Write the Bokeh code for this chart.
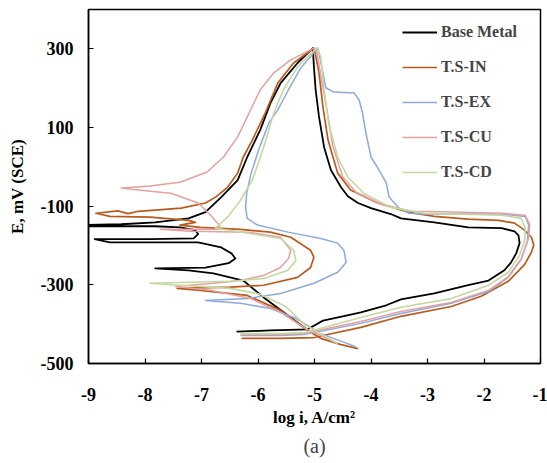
from bokeh.plotting import figure
from bokeh.models import Range1d, FixedTicker, Legend, LegendItem, Title
from bokeh.embed import file_html
from bokeh.resources import INLINE

series_names = ["Base Metal", "T.S-IN", "T.S-EX", "T.S-CU", "T.S-CD"]
series_colors = ["#000000", "#BA5A1C", "#8EA9DB", "#E6A0A0", "#C5D8A0"]

x_ticks = [-9, -8, -7, -6, -5, -4, -3, -2, -1]
x_tick_labels = ["-9", "-8", "-7", "-6", "-5", "-4", "-3", "-2", "-1"]
y_ticks = [300, 100, -100, -300, -500]
y_tick_labels = ["300", "100", "-100", "-300", "-500"]

# Base Metal
logi_base = [-6.38, -5.78, -5.12, -4.85, -4.44, -4.18, -3.73, -3.47, -2.88, -2.28, -1.92, -1.64, -1.52, -1.43,
             -1.37, -1.39, -1.46, -1.69, -2.28, -2.88, -3.47, -3.65, -4.00, -4.23, -4.41, -4.53, -4.71, -4.83,
             -4.92, -4.98, -5.01, -5.03, -5.30, -5.60, -5.78, -5.96, -6.19, -6.36, -6.65, -6.93, -7.23, -7.82,
             -8.42, -9.15, -9.15, -7.82, -7.38, -7.11, -7.06, -7.14, -7.91, -8.89, -8.62, -7.06, -6.65, -6.47,
             -6.40, -6.52, -6.93, -7.82, -7.23, -6.79, -6.26, -5.90, -5.42, -5.16]
E_base = [-419, -416, -413, -391, -378, -370, -352, -337, -322, -301, -289, -263, -243, -220,
          -194, -174, -164, -156, -154, -141, -131, -120, -105, -92, -75, -52, -8, 50,
          127, 196, 254, 302, 264, 213, 162, 94, 25, -34, -77, -115, -131, -141,
          -146, -148, -151, -151, -154, -161, -171, -182, -184, -184, -192, -192, -205, -220,
          -233, -245, -256, -258, -263, -271, -289, -332, -383, -411]

# T.S-IN
logi_in = [-6.29, -5.60, -5.01, -4.18, -3.47, -2.58, -2.05, -1.57, -1.28, -1.16, -1.12, -1.16, -1.30, -1.46,
           -1.74, -2.28, -2.88, -3.34, -3.88, -4.36, -4.59, -4.76, -4.85, -4.92, -5.00, -5.01, -5.37, -5.65,
           -5.87, -6.10, -6.26, -6.36, -6.54, -6.75, -6.93, -7.36, -7.82, -8.12, -8.30, -8.48, -8.87, -8.62,
           -7.91, -7.23, -7.11, -7.38, -7.02, -6.31, -5.78, -5.42, -5.07, -5.01, -5.07, -5.30, -5.90, -6.49,
           -7.43, -7.02, -6.19, -5.60, -5.12, -4.89, -4.53, -4.23]
E_in = [-436, -436, -434, -408, -380, -355, -329, -291, -248, -217, -199, -179, -159, -143,
        -136, -133, -126, -115, -92, -59, -16, 68, 152, 239, 298, 302, 264, 213,
        137, 68, 25, -16, -52, -77, -92, -105, -110, -113, -119, -112, -118, -126,
        -128, -136, -141, -148, -154, -159, -166, -179, -212, -230, -256, -281, -301, -306,
        -309, -314, -327, -365, -416, -436, -452, -462]

# T.S-EX
logi_ex = [-6.31, -5.60, -5.19, -4.18, -3.47, -2.58, -1.92, -1.57, -1.34, -1.23, -1.21, -1.27, -1.69, -2.58,
           -3.06, -3.33, -3.52, -3.68, -3.73, -3.86, -4.00, -4.09, -4.15, -4.21, -4.30, -4.66, -4.80, -4.85,
           -4.94, -5.24, -5.46, -5.65, -5.81, -5.99, -6.13, -6.20, -6.22, -6.19, -6.01, -5.47, -4.89, -4.59,
           -4.48, -4.44, -4.59, -5.01, -5.60, -6.19, -6.93, -6.31, -5.78, -5.33, -4.89, -4.27]
E_ex = [-429, -429, -426, -398, -373, -347, -317, -281, -235, -187, -148, -126, -120, -120,
        -120, -118, -103, -77, -41, -8, 25, 86, 137, 170, 188, 190, 201, 239,
        302, 252, 196, 145, 111, 43, -21, -67, -103, -131, -148, -166, -182, -194,
        -212, -243, -268, -296, -322, -335, -340, -347, -360, -385, -424, -457]

# T.S-CU
logi_cu = [-6.31, -5.60, -5.19, -4.18, -3.47, -2.58, -1.92, -1.57, -1.34, -1.21, -1.19, -1.27, -1.69, -2.58,
           -3.29, -3.82, -4.27, -4.50, -4.68, -4.78, -4.89, -4.96, -5.01, -5.42, -5.72, -5.96, -6.19, -6.36,
           -6.61, -6.90, -7.38, -7.91, -8.42, -8.12, -7.54, -7.06, -6.82, -6.70, -6.65, -7.20, -7.73, -7.20,
           -6.17, -5.60, -5.42, -5.46, -5.60, -5.90, -6.31, -6.79, -7.46, -6.84, -6.13, -5.60, -5.16, -4.62]
E_cu = [-426, -426, -424, -393, -368, -345, -314, -279, -233, -182, -146, -123, -118, -115,
        -113, -95, -64, -26, 55, 145, 234, 292, 302, 272, 239, 196, 127, 76,
        25, -13, -39, -49, -54, -59, -67, -92, -126, -146, -159, -159, -159, -164,
        -166, -179, -212, -233, -256, -276, -289, -296, -304, -314, -335, -370, -411, -447]

# T.S-CD
logi_cd = [-6.31, -5.60, -5.16, -4.18, -3.47, -2.58, -1.92, -1.57, -1.37, -1.28, -1.27, -1.34, -1.69, -2.58,
           -3.06, -3.65, -4.13, -4.41, -4.59, -4.75, -4.83, -4.89, -4.96, -5.30, -5.55, -5.72, -5.90, -6.10,
           -6.31, -6.54, -6.75, -6.17, -5.60, -5.37, -5.33, -5.47, -5.90, -6.49, -7.38, -7.91, -7.38, -6.49,
           -5.96, -5.51, -5.16, -4.59]
E_cd = [-424, -424, -421, -383, -357, -335, -301, -268, -225, -187, -156, -131, -123, -120,
        -118, -103, -67, -26, 25, 111, 196, 280, 302, 254, 196, 137, 50, -34,
        -85, -128, -156, -169, -182, -212, -238, -263, -284, -291, -294, -296, -301, -309,
        -324, -355, -403, -449]

series_x = [logi_base, logi_in, logi_ex, logi_cu, logi_cd]
series_y = [E_base, E_in, E_ex, E_cu, E_cd]
line_widths = [1.8, 1.7, 1.5, 1.5, 1.6]

SERIF = "'Liberation Serif', 'Times New Roman', serif"

p = figure(width=547, height=463, x_range=Range1d(-9, -1), y_range=Range1d(-500, 400),
           output_backend="svg", toolbar_location=None,
           min_border_left=88, min_border_right=7, min_border_top=9, min_border_bottom=100)

p.xgrid.visible = False
p.ygrid.visible = False
p.outline_line_color = "black"
p.outline_line_width = 1.5
p.background_fill_color = "white"
p.border_fill_color = "white"

renderers = []
for xs, ys, c, w in zip(series_x, series_y, series_colors, line_widths):
    r = p.line(xs, ys, line_color=c, line_width=w, line_join="round")
    renderers.append(r)

p.xaxis.ticker = FixedTicker(ticks=x_ticks)
p.yaxis.ticker = FixedTicker(ticks=y_ticks)
p.xaxis.major_label_overrides = {t: s for t, s in zip(x_ticks, x_tick_labels)}
p.yaxis.major_label_overrides = {t: s for t, s in zip(y_ticks, y_tick_labels)}
for ax in (p.xaxis[0], p.yaxis[0]):
    ax.major_tick_in = 5
    ax.major_tick_out = 0
    ax.minor_tick_in = 0
    ax.minor_tick_out = 0
    ax.axis_line_width = 1.5
    ax.axis_line_color = "black"
    ax.major_tick_line_color = "black"
    ax.major_tick_line_width = 1.2
    ax.major_label_text_font = SERIF
    ax.major_label_text_font_style = "bold"
    ax.major_label_text_font_size = "18px"
    ax.major_label_text_color = "black"
    ax.major_label_text_line_height = 1.0
    ax.axis_label_text_font = SERIF
    ax.axis_label_text_font_style = "bold"
    ax.axis_label_text_font_size = "17px"
    ax.axis_label_text_color = "black"
    ax.axis_label_text_line_height = 1.0

p.xaxis.axis_label = "log i, A/cm\u00b2"
p.yaxis.axis_label = "E, mV (SCE)"
p.xaxis.major_label_standoff = 24
p.yaxis.major_label_standoff = 15
p.xaxis.axis_label_standoff = 4
p.yaxis.axis_label_standoff = 11

legend = Legend(items=[LegendItem(label=n, renderers=[r]) for n, r in zip(series_names, renderers)],
                location=(314, 181), glyph_width=35, glyph_height=20, label_height=20,
                spacing=15, padding=0, margin=0, label_standoff=4,
                border_line_color=None, background_fill_alpha=0,
                label_text_font=SERIF, label_text_font_style="bold", label_text_font_size="16px")
p.add_layout(legend)

p.add_layout(Title(text="(a)", align="center", text_font=SERIF, text_font_size="20px",
                   text_font_style="normal", text_line_height=0.9, standoff=6), "below")

open("out.html", "w").write(file_html(p, INLINE))
